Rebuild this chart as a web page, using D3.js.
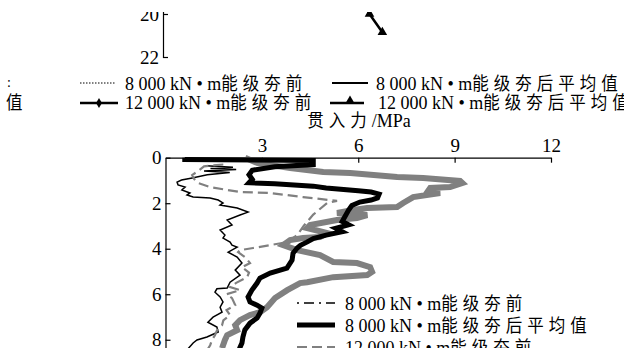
<!DOCTYPE html>
<html>
<head>
<meta charset="utf-8">
<script src="https://cdn.jsdelivr.net/npm/d3@7"></script>
<style>
  body { margin: 0; background: #fff; }
  text { font-family: "Liberation Serif", "Noto Sans CJK SC", serif; fill: #000; }
</style>
</head>
<body>
<svg width="624" height="348"></svg>
<script>
// depth (m) and cone resistance (MPa)
var depthA = [0.35, 0.42, 0.47, 0.52, 0.58, 0.65, 0.75, 0.89, 0.98, 1.07, 1.2, 1.29, 1.42, 1.55, 1.64, 1.73, 1.77, 1.86, 1.99, 2.08, 2.21, 2.39, 2.52, 2.74, 2.96, 3.18, 3.4, 3.53, 3.71, 3.84, 3.93, 4.15, 4.37, 4.63, 4.94, 5.16, 5.47, 5.73, 5.76, 5.91, 6.12, 6.34, 6.57, 6.79, 7.01, 7.23, 7.44, 7.66, 7.88, 8.01, 8.14, 8.4];
var valA = [1.25, 2.1, 1.4, 2.2, 1.2, 2.0, 1.3, 0.83, 0.5, 0.36, 0.39, 0.61, 0.51, 0.76, 0.67, 0.86, 1.39, 1.64, 1.79, 1.7, 2.23, 2.57, 2.32, 1.92, 2.07, 1.7, 1.85, 1.79, 2.01, 2.07, 2.23, 1.95, 2.23, 2.38, 2.17, 2.32, 2.01, 1.92, 1.6, 1.54, 1.7, 1.79, 1.7, 1.76, 1.48, 1.32, 1.6, 1.64, 1.29, 0.98, 0.86, 0.7];

var depthB = [0, 0.08, 0.12, 0.3, 0.4, 0.55, 0.75, 0.95, 1.1, 1.15, 1.25, 1.33, 1.45, 1.51, 1.6, 1.77, 1.86, 1.95, 2.1, 2.3, 2.55, 2.8, 2.95, 3.1, 3.25, 3.4, 3.55, 3.71, 3.85, 3.97, 4.2, 4.5, 4.85, 5.07, 5.29, 5.51, 5.82, 6.12, 6.34, 6.48, 6.61, 6.83, 7.05, 7.27, 7.57, 7.88, 8.14, 8.4];
var valB = [0.6, 0.6, 4.6, 4.6, 3.4, 2.7, 2.6, 2.7, 2.6, 3.4, 4.6, 5.0, 6.0, 6.4, 6.65, 6.6, 6.4, 6.05, 5.8, 5.7, 5.6, 5.5, 5.7, 5.3, 5.5, 5.0, 4.6, 4.4, 4.2, 4.1, 3.97, 3.94, 3.78, 3.26, 2.94, 2.85, 2.69, 2.57, 2.63, 2.85, 3.0, 2.94, 2.85, 2.63, 2.47, 2.41, 2.38, 2.3];

var depthC = [0.3, 0.38, 0.6, 0.76, 0.95, 1.11, 1.29, 1.51, 1.55, 1.73, 1.9, 1.99, 2.5, 3.0, 3.4, 3.71, 3.97, 4.06, 4.15, 4.4, 4.63, 4.81, 5.05, 5.25, 5.5, 5.69, 5.82, 6.0, 6.17, 6.48, 6.7, 6.92, 7.15, 7.36, 7.6, 7.8, 8.0, 8.24, 8.45];
var valC = [1.8, 1.2, 1.0, 0.83, 0.9, 1.01, 1.39, 2.32, 3.26, 4.28, 5.34, 5.03, 4.6, 4.3, 4.1, 3.79, 2.73, 2.32, 2.26, 2.5, 2.63, 2.38, 2.6, 2.54, 2.2, 2.01, 2.32, 1.9, 2.07, 2.17, 1.9, 2.01, 1.8, 1.76, 1.6, 1.54, 1.45, 1.39, 1.3];

var depthD = [0, 0.23, 0.45, 0.63, 0.67, 0.85, 0.89, 1.02, 1.11, 1.29, 1.33, 1.51, 1.55, 1.73, 1.99, 2.17, 2.21, 2.3, 2.43, 2.52, 2.65, 2.74, 2.96, 3.09, 3.31, 3.49, 3.53, 3.62, 3.84, 4.06, 4.28, 4.58, 4.63, 4.81, 5.02, 5.16, 5.25, 5.47, 5.51, 5.82, 6.17, 6.57, 6.79, 6.92, 7.14, 7.36, 7.58, 7.8, 8.01, 8.37];
var valD = [2.48, 2.85, 3.88, 4.91, 5.75, 7.21, 8.02, 9.17, 9.24, 8.86, 8.24, 8.15, 8.55, 7.71, 7.4, 7.21, 6.28, 5.84, 5.34, 6.28, 5.96, 5.34, 4.5, 4.41, 5.03, 4.81, 4.28, 3.88, 3.66, 4.1, 4.81, 5.22, 5.96, 6.37, 6.43, 6.28, 5.22, 4.41, 4.19, 3.79, 3.41, 3.16, 2.94, 2.63, 2.32, 2.17, 2.23, 1.92, 1.85, 1.76];

// tail of the upper chart (12 000 kN·m average)
var depthTop = [19, 20, 20.85];
var valTop = [6.0, 6.35, 6.75];

var xTicks = [3, 6, 9, 12];
var yTicks = [0, 2, 4, 6, 8];
var yTicksTop = [20, 22];

var names = ["8 000 kN • m能级夯前", "8 000 kN • m能级夯后平均值", "12 000 kN • m能级夯前", "12 000 kN • m能级夯后平均值"];

var svg = d3.select("svg");
svg.append("rect").attr("width", 624).attr("height", 348).attr("fill", "#fff");

var gray = "#808080";

// mixed latin / chinese label, chinese a bit spaced like the print
function label(sel, x, y, s, size, anchor) {
  var t = sel.append("text")
    .attr("transform", "translate(" + x + "," + y + ") scale(1,1.08)")
    .attr("dy", "0.35em")
    .attr("text-anchor", anchor || "start")
    .attr("font-size", size);
  s.split(/([\u4e00-\u9fff]+)/).filter(function(p) { return p; }).forEach(function(p) {
    var cjk = /[\u4e00-\u9fff]/.test(p);
    t.append("tspan")
      .attr("font-size", cjk ? size - 1.5 : size)
      .attr("letter-spacing", cjk ? 5 : 0)
      .text(p);
  });
  return t;
}

// scales
var x = d3.scaleLinear().domain([0, 12]).range([165.5, 551]);
var y = d3.scaleLinear().domain([0, 9]).range([157.7, 362.5]);
var yTop = d3.scaleLinear().domain([0, 22]).range([14 - 20 * 21.5, 57]);

function line(yy) {
  return d3.line().x(function(d) { return x(d[1]); }).y(function(d) { return yy(d[0]); });
}

// ---- upper chart remnant ----
svg.append("clipPath").attr("id", "topclip")
  .append("rect").attr("x", 0).attr("y", 12).attr("width", 624).attr("height", 60);
var topG = svg.append("g").attr("clip-path", "url(#topclip)");

var yAxTop = topG.append("g")
  .attr("transform", "translate(163,0)")
  .call(d3.axisLeft(yTop).tickValues(yTicksTop).tickSizeInner(-5).tickSizeOuter(-5).tickPadding(4));
yAxTop.selectAll("text").attr("font-size", 19).attr("font-family", "Liberation Serif");
yAxTop.selectAll("path,line").attr("stroke", "#000").attr("stroke-width", 1.2);

var topData = d3.zip(depthTop, valTop);
topG.append("path").datum(topData)
  .attr("d", line(yTop)).attr("fill", "none").attr("stroke", "#000").attr("stroke-width", 2.5);
topG.selectAll(".tri").data(topData.slice(1)).enter().append("path")
  .attr("transform", function(d) { return "translate(" + x(d[1]) + "," + yTop(d[0]) + ")"; })
  .attr("d", d3.symbol(d3.symbolTriangle).size(40));

// ---- upper legend ----
var lg = svg.append("g");
var lgRows = [83, 102];
lg.append("line").attr("x1", 80).attr("x2", 115).attr("y1", 83).attr("y2", 83)
  .attr("stroke", "#000").attr("stroke-width", 1).attr("stroke-dasharray", "1.5,1.5");
lg.append("line").attr("x1", 332).attr("x2", 368).attr("y1", 83).attr("y2", 83)
  .attr("stroke", "#000").attr("stroke-width", 1.8);
lg.append("line").attr("x1", 80).attr("x2", 118).attr("y1", 103).attr("y2", 103)
  .attr("stroke", "#000").attr("stroke-width", 2.5);
lg.append("path").attr("transform", "translate(99,103)").attr("d", d3.symbol(d3.symbolDiamond).size(30));
lg.append("line").attr("x1", 330).attr("x2", 364).attr("y1", 103).attr("y2", 103)
  .attr("stroke", "#000").attr("stroke-width", 2.5);
lg.append("path").attr("transform", "translate(350,101)").attr("d", d3.symbol(d3.symbolTriangle).size(40));
label(lg, 125, lgRows[0], names[0], 18);
label(lg, 376, lgRows[0], names[1], 18);
label(lg, 125, lgRows[1], names[2], 18);
label(lg, 378, lgRows[1], names[3], 18);
// cut-off text on the far left
label(lg, 7, 82, ":", 14);
label(lg, 6, 102, "值", 18);

// ---- lower chart ----
var g = svg.append("g");

var xAx = g.append("g")
  .attr("transform", "translate(0," + y(0) + ")")
  .call(d3.axisTop(x).tickValues(xTicks).tickSizeInner(-5).tickSizeOuter(0).tickPadding(6));
var yAx = g.append("g")
  .attr("transform", "translate(" + x(0) + ",0)")
  .call(d3.axisLeft(y).tickValues(yTicks).tickSizeInner(-5).tickSizeOuter(0).tickPadding(4));
g.selectAll(".tick text").attr("font-size", 19).attr("font-family", "Liberation Serif");
g.selectAll(".domain, .tick line").attr("stroke", "#000").attr("stroke-width", 1.2);

label(g, 359, 120, "贯入力/MPa", 18, "middle");

g.append("path").datum(d3.zip(depthA, valA))
  .attr("d", line(y)).attr("fill", "none").attr("stroke", "#000").attr("stroke-width", 1.5);
g.append("path").datum(d3.zip(depthC, valC))
  .attr("d", line(y)).attr("fill", "none").attr("stroke", gray).attr("stroke-width", 2.2)
  .attr("stroke-dasharray", "10,5");
g.append("path").datum(d3.zip(depthD, valD))
  .attr("d", line(y)).attr("fill", "none").attr("stroke", gray).attr("stroke-width", 6);
g.append("path").datum(d3.zip(depthB, valB))
  .attr("d", line(y)).attr("fill", "none").attr("stroke", "#000").attr("stroke-width", 5);

// ---- lower legend ----
var leg = svg.append("g");
var legY = [303, 325, 347, 369];
var legStyle = [
  { c: "#000", w: 1.5, d: "2,5,10,5" },
  { c: "#000", w: 5, d: null },
  { c: gray, w: 2.2, d: "10,5" },
  { c: gray, w: 6, d: null }
];
legStyle.forEach(function(s, i) {
  leg.append("line").attr("x1", 297).attr("x2", 335).attr("y1", legY[i]).attr("y2", legY[i])
    .attr("stroke", s.c).attr("stroke-width", s.w).attr("stroke-dasharray", s.d);
  label(leg, 345, legY[i], names[i], 18);
});
</script>
</body>
</html>
